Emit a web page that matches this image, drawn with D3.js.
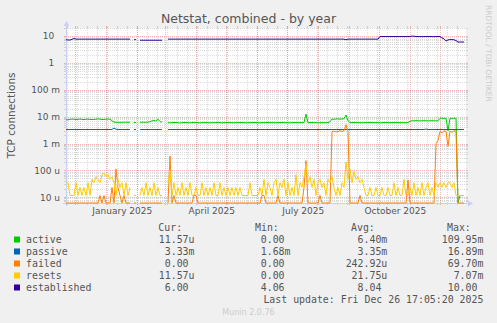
<!DOCTYPE html>
<html>
<head>
<meta charset="utf-8">
<title>Netstat, combined - by year</title>
<script src="https://cdn.jsdelivr.net/npm/d3@7"></script>
<style>
	body { margin: 0; background: #F0F0F0; }
	svg text { white-space: pre; }
</style>
</head>
<body>
<div id="graph-div"></div>
<script>
//
//  Netstat data, one sample every 2 days over the 400 day window
//
const lastUpdate = new Date(Date.UTC(2025, 11, 26, 17, 5, 20));
const spanDays = 400;
const sampleDays = 2;

// active, milli connections
const activeMilli = [
	7.8, 7.6, 7.9, 8.2, 8.0, 7.8, 7.9, 8.2, 7.9, 7.8,
	8.0, 8.1, 7.9, 7.8, 7.9, 8.0, 8.3, 8.1, 7.8, 7.9,
	8.0, 8.2, 8.0, 7.0, 6.3, 6.2, 6.2, 6.1, 6.2, 6.2,
	6.2, 6.2, 6.2, null, 6.0, 6.1, null, 6.2, 6.2, 6.2,
	6.2, 6.2, 6.5, 7.0, 7.2, 6.8, 8.0, 6.6, 6.2, null,
	null, 6.0, 5.9, 6.0, 6.1, 6.0, 6.0, 5.8, 6.0, 6.1,
	6.0, 6.0, 5.9, 6.0, 6.2, 6.0, 6.0, 5.9, 6.0, 6.0,
	6.1, 6.0, 5.9, 6.0, 6.0, 6.0, 6.2, 6.0, 5.9, 6.0,
	6.0, 6.1, 6.0, 6.0, 5.9, 6.0, 6.0, 6.1, 6.0, 6.0,
	5.9, 6.0, 6.0, 6.0, 6.1, 6.0, 6.0, 5.9, 6.0, 6.0,
	6.0, 6.1, 6.0, 6.0, 6.0, 5.9, 6.0, 6.0, 6.1, 6.0,
	6.0, 6.0, 5.9, 6.0, 6.0, 6.1, 6.0, 6.0, 6.0, 6.0,
	12.5, 6.0, 6.0, 6.1, 6.0, 6.0, 5.9, 6.0, 6.0, 6.0,
	6.0, 6.0, 6.5, 8.2, 8.0, 8.2, 8.3, 8.1, 8.2, 8.4,
	11.5, 7.0, 6.0, 6.0, 6.1, 6.0, 6.0, 6.0, 5.9, 6.0,
	6.0, 6.0, 6.1, 6.0, 6.0, 6.0, 6.0, 5.9, 6.0, 6.0,
	6.1, 6.0, 6.0, 6.0, 6.0, 6.1, 6.0, 6.0, 6.0, 6.0,
	6.0, 6.0, 6.8, 7.0, 7.0, 7.1, 7.0, 7.0, 7.0, 7.1,
	7.0, 7.0, 7.0, 7.1, 7.0, 7.0, 7.0, 8.7, 8.8, 8.6,
	8.7, 3.0, 8.7, 8.6, 8.8, 8.7, 0, 0.0116, 0.0116, 0.0116
];

// passive, milli connections
const passiveMilli = [
	3.33, 3.33, 3.33, 3.33, 3.33, 3.33, 3.33, 3.33, 3.33, 3.33,
	3.33, 3.33, 3.33, 3.33, 3.33, 3.33, 3.33, 3.33, 3.33, 3.33,
	3.33, 3.33, 3.33, 3.33, 3.75, 3.4, 3.33, 3.33, 3.33, 3.33,
	3.33, 3.33, 3.33, null, 3.33, 3.33, null, 3.33, 3.33, 3.33,
	3.33, 3.33, 3.33, 3.33, 3.33, 3.33, 3.33, 3.33, 3.33, null,
	null, 3.33, 3.33, 3.33, 3.33, 3.33, 3.33, 3.33, 3.33, 3.33,
	3.33, 3.33, 3.33, 3.33, 3.33, 3.33, 3.33, 3.33, 3.33, 3.33,
	3.33, 3.33, 3.33, 3.33, 3.33, 3.33, 3.33, 3.33, 3.33, 3.33,
	3.33, 3.33, 3.33, 3.33, 3.33, 3.33, 3.33, 3.33, 3.33, 3.33,
	3.33, 3.33, 3.33, 3.33, 3.33, 3.33, 3.33, 3.33, 3.33, 3.33,
	3.33, 3.33, 3.33, 3.33, 3.33, 3.33, 3.33, 3.33, 3.33, 3.33,
	3.33, 3.33, 3.33, 3.33, 3.33, 3.33, 3.33, 3.33, 3.33, 3.33,
	3.33, 3.33, 3.33, 3.33, 3.33, 3.33, 3.33, 3.33, 3.33, 3.33,
	3.33, 3.33, 3.33, 3.33, 3.33, 3.33, 3.33, 3.33, 3.33, 3.33,
	3.33, 3.33, 3.33, 3.33, 3.33, 3.33, 3.33, 3.33, 3.33, 3.33,
	3.33, 3.33, 3.33, 3.33, 3.33, 3.33, 3.33, 3.33, 3.33, 3.33,
	3.33, 3.33, 3.33, 3.33, 3.33, 3.33, 3.33, 3.33, 3.33, 3.33,
	3.33, 3.33, 3.33, 3.33, 3.33, 3.33, 3.33, 3.33, 3.33, 3.33,
	3.45, 3.33, 3.33, 3.33, 3.33, 3.33, 3.33, 3.33, 3.33, 3.33,
	3.33, 3.33, 3.33, 3.33, 3.33, 3.33, 3.33, 3.33, 3.33, 3.33
];

// failed, micro connections
const failedMicro = [
	0, 0, 0, 0, 0, 0, 0, 0, 0, 0,
	0, 0, 0, 0, 0, 0, 0, 11.6, 0, 11.6,
	0, 0, 0, 23.1, 0, 113, 23.1, 11.6, 0, 11.6,
	0, 0, 0, null, 0, 0, null, 0, 0, 0,
	0, 0, 0, 0, 0, 0, 0, 0, 0, null,
	null, 0, 345, 0, 11.6, 0, 0, 0, 0, 0,
	0, 0, 0, 0, 11.6, 11.6, 0, 0, 0, 0,
	0, 0, 0, 0, 0, 0, 0, 0, 0, 0,
	0, 0, 0, 0, 0, 0, 0, 0, 0, 0,
	0, 0, 0, 0, 0, 0, 0, 0, 11.6, 11.6,
	0, 0, 0, 0, 0, 0, 11.6, 0, 0, 0,
	0, 0, 0, 0, 0, 0, 0, 0, 0, 23.1,
	230, 0, 0, 0, 0, 0, 0, 11.6, 0, 0,
	0, 0, 0, 2800, 2900, 2700, 2800, 3000, 2800, 3000,
	5000, 2800, 0, 0, 0, 0, 0, 11.6, 0, 0,
	0, 0, 0, 0, 0, 0, 0, 0, 0, 0,
	0, 0, 0, 0, 0, 0, 0, 0, 0, 0,
	0, 44, 0, 0, 0, 0, 0, 0, 0, 0,
	0, 0, 0, 0, 0, 1000, 1300, 2800, 2500, 3000,
	2800, 800, 2900, 2600, 3000, 2900, 0, 0, 0, 0
];

// resets, micro connections
const resetsMicro = [
	34.7, 34.7, 11.6, 11.6, 11.6, 34.7, 11.6, 23.1, 11.6, 23.1,
	11.6, 34.7, 11.6, 46.3, 34.7, 57.9, 46.3, 34.7, 69.4, 81,
	57.9, 69.4, 46.3, 57.9, 34.7, 11.6, 46.3, 23.1, 34.7, 11.6,
	34.7, 11.6, 23.1, null, 11.6, 11.6, null, 11.6, 23.1, 11.6,
	34.7, 11.6, 23.1, 11.6, 34.7, 11.6, 23.1, 11.6, 11.6, null,
	null, 34.7, 104, 11.6, 34.7, 11.6, 23.1, 11.6, 34.7, 11.6,
	23.1, 11.6, 34.7, 11.6, 11.6, 23.1, 11.6, 11.6, 34.7, 11.6,
	23.1, 11.6, 23.1, 11.6, 34.7, 11.6, 11.6, 34.7, 11.6, 23.1,
	11.6, 23.1, 11.6, 23.1, 11.6, 23.1, 11.6, 23.1, 11.6, 11.6,
	11.6, 11.6, 34.7, 11.6, 11.6, 11.6, 11.6, 23.1, 11.6, 46.3,
	11.6, 34.7, 23.1, 11.6, 34.7, 46.3, 11.6, 34.7, 23.1, 46.3,
	11.6, 34.7, 11.6, 23.1, 11.6, 69.4, 11.6, 34.7, 23.1, 57.9,
	162, 34.7, 57.9, 23.1, 46.3, 11.6, 34.7, 46.3, 23.1, 34.7,
	11.6, 46.3, 34.7, 57.9, 23.1, 11.6, 23.1, 11.6, 34.7, 23.1,
	208, 46.3, 115, 34.7, 92, 46.3, 57.9, 34.7, 46.3, 23.1,
	11.6, 11.6, 23.1, 11.6, 11.6, 23.1, 11.6, 11.6, 23.1, 11.6,
	11.6, 23.1, 11.6, 11.6, 34.7, 11.6, 23.1, 11.6, 11.6, 46.3,
	11.6, 11.6, 23.1, 11.6, 34.7, 11.6, 23.1, 11.6, 34.7, 11.6,
	23.1, 34.7, 11.6, 23.1, 11.6, 34.7, 23.1, 34.7, 23.1, 34.7,
	23.1, 34.7, 34.7, 23.1, 34.7, 11.6, 11.6, 11.6, 11.6, 11.6
];

// established, connections
const established = [
	7.3, 7.2, 7.1, 7.6, 8.1, 7.7, 7.7, 7.7, 7.7, 7.7,
	7.7, 7.7, 7.7, 7.7, 7.7, 7.7, 7.7, 7.7, 7.7, 7.7,
	7.7, 7.7, 7.7, 7.7, 7.7, 7.7, 7.7, 7.7, 7.7, 7.7,
	7.7, 7.7, 7.7, null, 7.3, 7.4, null, 7.0, 7.0, 7.0,
	7.0, 7.0, 7.0, 7.0, 7.0, 7.0, 7.0, 7.0, 7.0, null,
	null, 7.7, 7.7, 7.7, 7.7, 7.7, 7.7, 7.7, 7.7, 7.7,
	7.7, 7.7, 7.7, 7.7, 7.7, 7.7, 7.7, 7.7, 7.7, 7.7,
	7.7, 7.7, 7.7, 7.7, 7.7, 7.7, 7.7, 7.7, 7.7, 7.7,
	7.7, 7.7, 7.7, 7.7, 7.7, 7.7, 7.7, 7.7, 7.7, 7.7,
	7.7, 7.7, 7.7, 7.7, 7.7, 7.7, 7.7, 7.7, 7.7, 7.7,
	7.7, 7.7, 7.7, 7.7, 7.7, 7.7, 7.7, 7.7, 7.7, 7.7,
	7.7, 7.7, 7.7, 7.7, 7.7, 7.7, 7.7, 7.7, 7.7, 7.7,
	7.7, 7.7, 7.7, 7.7, 7.7, 7.7, 7.7, 7.7, 7.7, 7.7,
	7.7, 7.7, 7.7, 7.7, 7.7, 7.7, 7.7, 7.7, 7.7, 7.7,
	7.3, 7.7, 7.7, 7.7, 7.7, 7.7, 7.7, 7.7, 7.7, 7.7,
	7.7, 7.7, 7.7, 7.7, 7.7, 7.7, 7.7, 9.6, 9.6, 9.6,
	9.6, 9.6, 9.6, 9.6, 9.6, 9.6, 9.6, 9.6, 9.6, 9.6,
	9.6, 9.6, 9.6, 10.0, 9.9, 9.6, 9.6, 9.6, 9.5, 9.6,
	9.6, 9.6, 9.7, 9.6, 9.5, 9.6, 9.6, 9.6, 8.5, 7.9,
	6.6, 7.2, 7.4, 7.4, 7.3, 6.8, 6.0, 6.0, 6.0, 6.0
];

const seriesNames = ["active", "passive", "failed", "resets", "established"];
const seriesColors = ["#00CC00", "#0066B3", "#FF8000", "#FFCC00", "#330099"];
const seriesUnits = [1e-3, 1e-3, 1e-6, 1e-6, 1];
const seriesValues = [activeMilli, passiveMilli, failedMicro, resetsMicro, established];

// legend table as printed by munin
const legendHeaders = ["Cur:", "Min:", "Avg:", "Max:"];
const legendCur = ["11.57u", " 3.33m", "  0.00 ", "11.57u", "  6.00 "];
const legendMin = ["  0.00 ", " 1.68m", "  0.00 ", "  0.00 ", "  4.06 "];
const legendAvg = ["  6.40m", "  3.35m", "242.92u", " 21.75u", "  8.04 "];
const legendMax = ["109.95m", " 16.89m", " 69.70m", "  7.07m", " 10.00 "];

// axes
const yDomain = [6.1e-6, 20];
const yTickValues = [10, 1, 0.1, 0.01, 0.001, 1e-4, 1e-5];
const yTickLabels = ["10  ", "1  ", "100 m", "10 m", "1 m", "100 u", "10 u"];
const xTickLabels = ["January 2025", "April 2025", "July 2025", "October 2025"];


class NetstatGraph {
//
//   Munin style rrdtool graph, log scale
//
	constructor() {
		this.width = 497;
		this.height = 323;
		this.plot = { left: 66, right: 466, top: 28, bottom: 203 };
		this.legendTop = 231;
		this.rowHeight = 12;
		this.colRight = [194.5, 290.5, 387.3, 483.4];
		this.colHead = [158.3, 255, 351, 447];
		this.sansFont = "DejaVu Sans, Verdana, sans-serif";
		this.monoFont = "DejaVu Sans Mono, monospace";
		this.textColor = "#555555";
		this.axisColor = "#C8D0F4";
		this.gridColor = "rgba(150,150,150,0.35)";
		this.mgridColor = "rgba(230,80,80,0.42)";

		this.start = d3.utcDay.offset(lastUpdate, -spanDays);
		this.series = seriesNames.map((name, k) => ({
			name: name,
			color: seriesColors[k],
			points: seriesValues[k].map((v, i) => ({
				t: d3.utcDay.offset(this.start, i * sampleDays),
				v: v == null ? null : v * seriesUnits[k]
			}))
		}));
		console.log("series = ", this.series);
	}

	drawGraph() {
		const p = this.plot;

		const x = d3.scaleUtc()
			.domain([this.start, lastUpdate])
			.range([p.left, p.right]);

		const y = d3.scaleLog()
			.domain(yDomain)
			.range([p.bottom, p.top]);

		const svg = d3.select("#graph-div")
			.append("svg")
			.attr("width", this.width)
			.attr("height", this.height)
			.style("display", "block")
			.style("background", "#F0F0F0");

		svg.append("rect")
			.attr("x", p.left)
			.attr("y", p.top)
			.attr("width", p.right - p.left)
			.attr("height", p.bottom - p.top)
			.attr("fill", "#FFFFFF");

//
//  grid: minor first, then major
//
		const snap = v => Math.round(v) + 0.5;
		const isDecade = d => Math.abs(Math.log10(d) - Math.round(Math.log10(d))) < 1e-9;
		const yTicks = y.ticks();
		const yMinor = yTicks.filter(d => !isDecade(d));
		const yMajor = yTicks.filter(d => isDecade(d));

		const xMinor = d3.utcDay.range(this.start, lastUpdate)
			.filter(d => Math.round(d / 864e5) % 10 === 0);
		const xMajor = d3.utcMonth.range(this.start, lastUpdate);

		const grid = svg.append("g").attr("id", "grid");

		const hLines = (vals, color) => {
			vals.forEach(d => {
				const yy = snap(y(d));
				grid.append("line").attr("x1", p.left).attr("x2", p.right)
					.attr("y1", yy).attr("y2", yy)
					.attr("stroke", color).attr("stroke-dasharray", "1,1");
				grid.append("line").attr("x1", p.left - 2).attr("x2", p.left)
					.attr("y1", yy).attr("y2", yy).attr("stroke", color);
				grid.append("line").attr("x1", p.right).attr("x2", p.right + 2)
					.attr("y1", yy).attr("y2", yy).attr("stroke", color);
			});
		};
		const vLines = (vals, color) => {
			vals.forEach(d => {
				const xx = snap(x(d));
				grid.append("line").attr("x1", xx).attr("x2", xx)
					.attr("y1", p.top).attr("y2", p.bottom)
					.attr("stroke", color).attr("stroke-dasharray", "1,1");
				grid.append("line").attr("x1", xx).attr("x2", xx)
					.attr("y1", p.bottom).attr("y2", p.bottom + 2).attr("stroke", color);
				grid.append("line").attr("x1", xx).attr("x2", xx)
					.attr("y1", p.top - 2).attr("y2", p.top).attr("stroke", color);
			});
		};
		hLines(yMinor, this.gridColor);
		vLines(xMinor, this.gridColor);
		hLines(yMajor, this.mgridColor);
		vLines(xMajor, this.mgridColor);

//
//  axis lines with arrows
//
		svg.append("line")
			.attr("x1", p.left - 3).attr("x2", p.right + 4)
			.attr("y1", p.bottom + 0.5).attr("y2", p.bottom + 0.5)
			.attr("stroke", this.axisColor);
		svg.append("line")
			.attr("x1", p.left + 0.5).attr("x2", p.left + 0.5)
			.attr("y1", p.bottom + 3).attr("y2", p.top - 3)
			.attr("stroke", this.axisColor);
		svg.append("path")
			.attr("d", `M${p.right + 2},${p.bottom - 2.5}L${p.right + 7},${p.bottom + 0.5}L${p.right + 2},${p.bottom + 3.5}Z`)
			.attr("fill", this.axisColor);
		svg.append("path")
			.attr("d", `M${p.left - 2.5},${p.top - 2}L${p.left + 0.5},${p.top - 7}L${p.left + 3.5},${p.top - 2}Z`)
			.attr("fill", this.axisColor);

//
//  tick labels through d3 axes
//
		const yAxis = d3.axisLeft(y)
			.tickValues(yTickValues)
			.tickFormat((d, i) => yTickLabels[i])
			.tickSize(0)
			.tickPadding(6);

		svg.append("g")
			.attr("transform", `translate(${p.left},0)`)
			.call(yAxis)
			.call(g => g.select(".domain").remove())
			.attr("font-family", this.sansFont)
			.attr("font-size", 9)
			.selectAll("text")
			.attr("fill", this.textColor);

		const quarterMonths = d3.utcMonth.every(3).range(this.start, lastUpdate);
		const labelDates = quarterMonths.map(m => new Date((+m + +d3.utcMonth.offset(m, 1)) / 2));

		const xAxis = d3.axisBottom(x)
			.tickValues(labelDates)
			.tickFormat((d, i) => xTickLabels[i])
			.tickSize(0)
			.tickPadding(5);

		svg.append("g")
			.attr("transform", `translate(0,${p.bottom})`)
			.call(xAxis)
			.call(g => g.select(".domain").remove())
			.attr("font-family", this.sansFont)
			.attr("font-size", 9)
			.selectAll("text")
			.attr("fill", this.textColor);

//
//  data lines, zero drops to the bottom edge
//
		svg.append("clipPath")
			.attr("id", "plotClip")
			.append("rect")
			.attr("x", p.left)
			.attr("y", p.top - 1)
			.attr("width", p.right - p.left + 1)
			.attr("height", p.bottom - p.top + 2);

		const line = d3.line()
			.defined(d => d.v != null)
			.x(d => x(d.t))
			.y(d => d.v > 0 ? y(d.v) : y.range()[0]);

		svg.append("g")
			.attr("clip-path", "url(#plotClip)")
			.selectAll("path")
			.data(this.series)
			.enter()
			.append("path")
			.attr("d", d => line(d.points))
			.attr("fill", "none")
			.attr("stroke", d => d.color)
			.attr("stroke-width", 1);

//
//  titles
//
		svg.append("text")
			.text("Netstat, combined - by year")
			.attr("x", this.width / 2)
			.attr("y", 23)
			.attr("text-anchor", "middle")
			.style("font-family", this.sansFont)
			.style("font-size", "12.5px")
			.attr("fill", this.textColor);

		svg.append("text")
			.text("TCP connections")
			.attr("transform", `translate(15,${(p.top + p.bottom) / 2}) rotate(-90)`)
			.attr("text-anchor", "middle")
			.style("font-family", this.sansFont)
			.style("font-size", "10.5px")
			.attr("fill", this.textColor);

		svg.append("text")
			.text("RRDTOOL / TOBI OETIKER")
			.attr("transform", "translate(485.5,5) rotate(90)")
			.style("font-family", this.sansFont)
			.style("font-size", "7.5px")
			.attr("fill", "#CCCCCC");

//
//  legend
//
		const legend = svg.append("g")
			.style("font-family", this.monoFont)
			.style("font-size", "9.9px")
			.attr("fill", this.textColor);

		legend.selectAll("text.head")
			.data(legendHeaders)
			.enter()
			.append("text")
			.attr("class", "head")
			.attr("x", (d, i) => this.colHead[i])
			.attr("y", this.legendTop)
			.text(d => d);

		const cols = [legendCur, legendMin, legendAvg, legendMax];
		this.series.forEach((s, k) => {
			const yy = this.legendTop + this.rowHeight * (k + 1);
			legend.append("rect")
				.attr("x", 14)
				.attr("y", yy - 6.5)
				.attr("width", 6)
				.attr("height", 6)
				.attr("fill", s.color);
			legend.append("text")
				.attr("x", 26)
				.attr("y", yy)
				.text(s.name);
			cols.forEach((col, c) => {
				legend.append("text")
					.attr("x", this.colRight[c])
					.attr("y", yy)
					.attr("text-anchor", "end")
					.text(col[k]);
			});
		});

		legend.append("text")
			.attr("x", this.colRight[3])
			.attr("y", this.legendTop + this.rowHeight * 6)
			.attr("text-anchor", "end")
			.text("Last update: Fri Dec 26 17:05:20 2025");

		svg.append("text")
			.text("Munin 2.0.76")
			.attr("x", this.width / 2)
			.attr("y", this.legendTop + this.rowHeight * 7)
			.attr("text-anchor", "middle")
			.style("font-family", this.sansFont)
			.style("font-size", "8px")
			.attr("fill", "#CCCCCC");
	}
}

const graph = new NetstatGraph();
graph.drawGraph();
</script>
</body>
</html>
